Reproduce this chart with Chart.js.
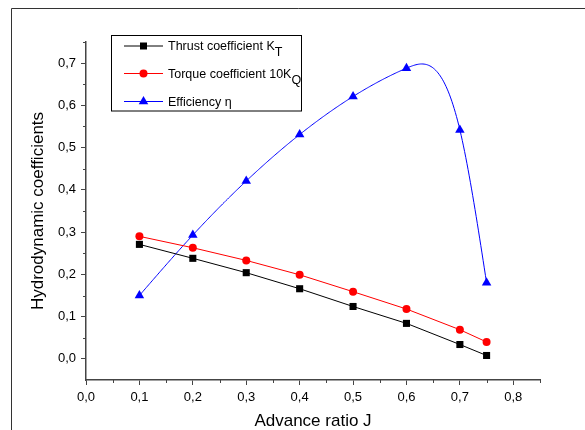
<!DOCTYPE html>
<html>
<head>
<meta charset="utf-8">
<script src="https://cdn.jsdelivr.net/npm/chart.js@4/dist/chart.umd.min.js"></script>
<style>
  html, body { margin: 0; padding: 0; background: #fff; }
  #graphCanvas { display: block; }
</style>
</head>
<body>
<canvas id="graphCanvas" width="585" height="430"></canvas>
<script>
// advance ratio J
var advance = [0.1, 0.2, 0.3, 0.4, 0.5, 0.6, 0.7, 0.75];
// thrust coefficient KT
var thrust = [0.271, 0.238, 0.204, 0.166, 0.124, 0.084, 0.034, 0.008];
// torque coefficient 10KQ
var torque = [0.290, 0.263, 0.233, 0.199, 0.159, 0.118, 0.069, 0.040];
// efficiency eta
var efficiency = [0.150, 0.293, 0.421, 0.531, 0.621, 0.688, 0.542, 0.180];

var xTicks = [0, 0.1, 0.2, 0.3, 0.4, 0.5, 0.6, 0.7, 0.8];
var yTicks = [0, 0.1, 0.2, 0.3, 0.4, 0.5, 0.6, 0.7];
var xMinor = [0.05, 0.15, 0.25, 0.35, 0.45, 0.55, 0.65, 0.75, 0.85];
var yMinor = [0.05, 0.15, 0.25, 0.35, 0.45, 0.55, 0.65, 0.75];

var legendItems = [
  {text: 'Thrust coefficient K', sub: 'T', color: '#000000', style: 'rect'},
  {text: 'Torque coefficient 10K', sub: 'Q', color: '#ff0000', style: 'circle'},
  {text: 'Efficiency \u03b7', sub: '', color: '#0000ff', style: 'triangle'}
];

var FONT = "'Liberation Sans', Arial, sans-serif";

function pts(ys) {
  return advance.map(function (j, i) { return {x: j, y: ys[i]}; });
}

function fmt(v) {
  return v.toFixed(1).replace('.', ',');
}

// natural cubic spline, the way the original plot joins the efficiency points
function naturalSpline(xs, ys) {
  var n = xs.length, h = [], al = [], l = [1], mu = [0], z = [0];
  var b = [], c = [], d = [], i;
  for (i = 0; i < n - 1; i++) h[i] = xs[i + 1] - xs[i];
  for (i = 1; i < n - 1; i++) al[i] = 3 / h[i] * (ys[i + 1] - ys[i]) - 3 / h[i - 1] * (ys[i] - ys[i - 1]);
  for (i = 1; i < n - 1; i++) {
    l[i] = 2 * (xs[i + 1] - xs[i - 1]) - h[i - 1] * mu[i - 1];
    mu[i] = h[i] / l[i];
    z[i] = (al[i] - h[i - 1] * z[i - 1]) / l[i];
  }
  c[n - 1] = 0;
  for (i = n - 2; i >= 0; i--) {
    c[i] = z[i] - mu[i] * c[i + 1];
    b[i] = (ys[i + 1] - ys[i]) / h[i] - h[i] * (c[i + 1] + 2 * c[i]) / 3;
    d[i] = (c[i + 1] - c[i]) / (3 * h[i]);
  }
  return function (x) {
    var j = 0;
    while (j < n - 2 && x > xs[j + 1]) j++;
    var dx = x - xs[j];
    return ys[j] + b[j] * dx + c[j] * dx * dx + d[j] * dx * dx * dx;
  };
}

function marker(ctx, style, x, y, color) {
  ctx.fillStyle = color;
  ctx.beginPath();
  if (style === 'rect') {
    ctx.rect(x - 3.5, y - 3.5, 7, 7);
  } else if (style === 'circle') {
    ctx.arc(x, y, 4, 0, Math.PI * 2);
  } else {
    var r = 5.5;
    ctx.moveTo(x, y - r);
    ctx.lineTo(x + 0.866 * r, y + 0.5 * r);
    ctx.lineTo(x - 0.866 * r, y + 0.5 * r);
    ctx.closePath();
  }
  ctx.fill();
}

var decor = {
  id: 'decor',
  beforeDraw: function (chart) {
    var ctx = chart.ctx;
    ctx.save();
    ctx.fillStyle = '#fff';
    ctx.fillRect(0, 0, chart.width, chart.height);
    // outer frame (cut off at right and bottom)
    ctx.strokeStyle = '#333';
    ctx.lineWidth = 1;
    ctx.beginPath();
    ctx.moveTo(11.5, chart.height);
    ctx.lineTo(11.5, 8.5);
    ctx.lineTo(chart.width, 8.5);
    ctx.stroke();
    ctx.restore();
  },
  beforeDatasetsDraw: function (chart) {
    var ctx = chart.ctx, xs = chart.scales.x, ys = chart.scales.y;
    var f = naturalSpline(advance, efficiency);
    ctx.save();
    ctx.strokeStyle = '#0000ff';
    ctx.lineWidth = 1;
    ctx.beginPath();
    var x0 = advance[0], x1 = advance[advance.length - 1];
    for (var k = 0; k <= 300; k++) {
      var xv = x0 + (x1 - x0) * k / 300;
      var px = xs.getPixelForValue(xv), py = ys.getPixelForValue(f(xv));
      if (k === 0) ctx.moveTo(px, py); else ctx.lineTo(px, py);
    }
    ctx.stroke();
    ctx.restore();
  },
  afterDraw: function (chart) {
    var ctx = chart.ctx, xs = chart.scales.x, ys = chart.scales.y;
    ctx.save();
    // minor ticks
    ctx.strokeStyle = '#444';
    ctx.lineWidth = 1;
    ctx.beginPath();
    xMinor.forEach(function (v) {
      var px = Math.round(xs.getPixelForValue(v)) + 0.5;
      ctx.moveTo(px, xs.top);
      ctx.lineTo(px, xs.top + 3);
    });
    yMinor.forEach(function (v) {
      var py = Math.round(ys.getPixelForValue(v)) + 0.5;
      ctx.moveTo(ys.right, py);
      ctx.lineTo(ys.right - 3, py);
    });
    ctx.stroke();

    // legend box
    var bx = 111.5, by = 35.5, bw = 190, bh = 75.5;
    ctx.strokeStyle = '#000';
    ctx.lineWidth = 1;
    ctx.strokeRect(bx, by, bw, bh);
    var rows = [46, 73.5, 101.5];
    legendItems.forEach(function (it, i) {
      var y = rows[i];
      ctx.strokeStyle = it.color;
      ctx.lineWidth = 1;
      ctx.beginPath();
      ctx.moveTo(124, y);
      ctx.lineTo(163, y);
      ctx.stroke();
      marker(ctx, it.style, 143.5, y, it.color);
      ctx.fillStyle = '#000';
      ctx.font = '12.5px ' + FONT;
      ctx.textBaseline = 'middle';
      ctx.textAlign = 'left';
      ctx.fillText(it.text, 168, y + 1);
      if (it.sub) {
        var w = ctx.measureText(it.text).width;
        ctx.fillText(it.sub, 168 + w, y + 7);
      }
    });
    ctx.restore();
  }
};

new Chart(document.getElementById('graphCanvas'), {
  type: 'scatter',
  data: {
    datasets: [
      {
        label: 'Thrust coefficient KT',
        data: pts(thrust),
        showLine: true,
        borderColor: '#000000',
        backgroundColor: '#000000',
        borderWidth: 1,
        pointStyle: 'rect',
        pointRadius: 5,
        pointBorderWidth: 0
      },
      {
        label: 'Torque coefficient 10KQ',
        data: pts(torque),
        showLine: true,
        borderColor: '#ff0000',
        backgroundColor: '#ff0000',
        borderWidth: 1,
        pointStyle: 'circle',
        pointRadius: 4,
        pointBorderWidth: 0
      },
      {
        label: 'Efficiency',
        data: pts(efficiency),
        showLine: false,
        borderColor: '#0000ff',
        backgroundColor: '#0000ff',
        pointStyle: 'triangle',
        pointRadius: 5.5,
        pointBorderWidth: 0
      }
    ]
  },
  options: {
    responsive: false,
    animation: false,
    devicePixelRatio: 1,
    layout: {padding: {left: 30, top: 42, right: 45, bottom: 0}},
    plugins: {
      legend: {display: false},
      tooltip: {enabled: false}
    },
    scales: {
      x: {
        type: 'linear',
        min: 0,
        max: 0.85,
        afterFit: function (s) { s.height = 50; },
        afterBuildTicks: function (s) { s.ticks = xTicks.map(function (v) { return {value: v}; }); },
        grid: {drawOnChartArea: false, drawTicks: true, tickLength: 5, tickColor: '#444', tickWidth: 1},
        border: {display: true, color: '#444', width: 1.5},
        ticks: {
          autoSkip: false,
          maxRotation: 0,
          padding: 5,
          color: '#000',
          font: {family: FONT, size: 13},
          callback: function (v) { return fmt(v); }
        },
        title: {
          display: true,
          text: 'Advance ratio J',
          color: '#000',
          font: {family: FONT, size: 17, lineHeight: 1},
          padding: 0
        }
      },
      y: {
        type: 'linear',
        min: -0.05,
        max: 0.75,
        afterFit: function (s) { s.width = 56; },
        afterBuildTicks: function (s) { s.ticks = yTicks.map(function (v) { return {value: v}; }); },
        grid: {drawOnChartArea: false, drawTicks: true, tickLength: 5, tickColor: '#444', tickWidth: 1},
        border: {display: true, color: '#444', width: 1.5},
        ticks: {
          autoSkip: false,
          padding: 5,
          color: '#000',
          font: {family: FONT, size: 13},
          callback: function (v) { return fmt(v); }
        },
        title: {
          display: true,
          text: 'Hydrodynamic coefficients',
          color: '#000',
          font: {family: FONT, size: 17, lineHeight: 1},
          padding: 0
        }
      }
    }
  },
  plugins: [decor]
});
</script>
</body>
</html>
